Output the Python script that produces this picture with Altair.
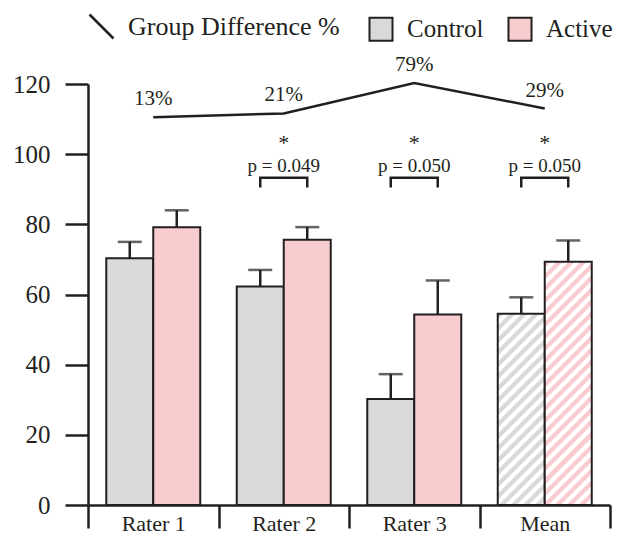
import math
import altair as alt
import pandas as pd

# ---------------- data ----------------
categories = ["Rater 1", "Rater 2", "Rater 3", "Mean"]
groups = ["Control", "Active"]
control_vals = [70.3, 62.3, 30.2, 54.5]
control_err = [4.7, 4.7, 7.1, 4.7]
active_vals = [79.2, 75.6, 54.3, 69.3]
active_err = [4.8, 3.6, 9.7, 6.1]
diff_vals = [110.5, 111.6, 120.3, 113.0]
diff_labels = ["13%", "21%", "79%", "29%"]
sig_categories = ["Rater 2", "Rater 3", "Mean"]
sig_p_labels = ["p = 0.049", "p = 0.050", "p = 0.050"]
sig_marks = ["*", "*", "*"]

# ---------------- style constants ----------------
FONT = "Liberation Serif"
INK = "#231f20"
GRAY = "#d9d9d9"
PINK = "#f9cdd0"
PLOT_W = 522
PLOT_H = 421
Y_MAX = 120
BAND = PLOT_W / len(categories)
BAR_W = 47
OFF_PAD = (BAND / BAR_W - 2) / 2
STRIPE_PERIOD = 8.5
BRACKET_TOP = 93.3
BRACKET_LEG = 90.5
P_Y = 95.0
STAR_Y = 99.9

rows = []
for i, c in enumerate(categories):
    rows.append(dict(category=c, group="Control", value=control_vals[i],
                     upper=control_vals[i] + control_err[i]))
    rows.append(dict(category=c, group="Active", value=active_vals[i],
                     upper=active_vals[i] + active_err[i]))
bars = pd.DataFrame(rows)

line_df = pd.DataFrame(dict(category=categories, value=diff_vals,
                            label=diff_labels,
                            series=["Group Difference %"] * len(categories)))

sig_df = pd.DataFrame(dict(category=sig_categories, p=sig_p_labels,
                           star=sig_marks))
br_rows = []
for c in sig_categories:
    br_rows += [dict(category=c, group="Control", y=BRACKET_LEG, o=0),
                dict(category=c, group="Control", y=BRACKET_TOP, o=1),
                dict(category=c, group="Active", y=BRACKET_TOP, o=2),
                dict(category=c, group="Active", y=BRACKET_LEG, o=3)]
br_df = pd.DataFrame(br_rows)

x_scale = alt.Scale(domain=categories, paddingInner=0, paddingOuter=0)
off_scale = alt.Scale(domain=groups, paddingInner=0, paddingOuter=OFF_PAD)
y_scale = alt.Scale(domain=[0, Y_MAX], nice=False)

x_axis = alt.Axis(title=None, labelAngle=0, tickBand="extent", tickSize=23,
                  tickWidth=2.5, tickColor=INK, domainColor=INK,
                  domainWidth=2.5, labelFont=FONT, labelFontSize=22,
                  labelColor=INK, labelPadding=-15)
y_axis = alt.Axis(title=None, values=[0, 20, 40, 60, 80, 100, 120],
                  tickSize=23, tickWidth=2.5, tickColor=INK, domainColor=INK,
                  domainWidth=2.5, labelFont=FONT, labelFontSize=25,
                  labelColor=INK, labelPadding=15, grid=False)

X = alt.X("category:N", scale=x_scale, axis=x_axis, sort=categories)
XO = alt.XOffset("group:N", scale=off_scale, sort=groups)
Y = alt.Y("value:Q", scale=y_scale, axis=y_axis)

bar_base = alt.Chart(bars)

solid = bar_base.transform_filter(alt.datum.category != "Mean").mark_bar(
    stroke=INK, strokeWidth=2).encode(
    x=X, xOffset=XO, y=Y,
    fill=alt.Fill("group:N", sort=groups,
                  scale=alt.Scale(domain=groups, range=[GRAY, PINK]),
                  legend=alt.Legend(orient="none", legendX=280, legendY=-68,
                                    direction="horizontal", title=None,
                                    symbolType="square", symbolSize=530,
                                    symbolStrokeColor=INK,
                                    symbolStrokeWidth=2,
                                    labelFont=FONT, labelFontSize=25,
                                    labelColor=INK, labelOffset=13,
                                    labelLimit=300, columnPadding=20)))


def stripes(color, value):
    w = BAR_W
    h = value * PLOT_H / Y_MAX
    k = (w + h) / (w * w + h * h)
    n = (w + h) / math.sqrt(2) / STRIPE_PERIOD
    stops = []
    i = 0
    while i / n < 1:
        a, b, c = i / n, min((i + 0.5) / n, 1), min((i + 1) / n, 1)
        stops += [alt.GradientStop(offset=a, color=color),
                  alt.GradientStop(offset=b, color=color),
                  alt.GradientStop(offset=b, color="white"),
                  alt.GradientStop(offset=c, color="white")]
        i += 1
    return alt.LinearGradient(gradient="linear", stops=stops, x1=0, y1=0,
                              x2=k * w, y2=k * h)


mean_idx = categories.index("Mean")
hatched = []
for g, col, v in [("Control", GRAY, control_vals[mean_idx]),
                  ("Active", PINK, active_vals[mean_idx])]:
    hatched.append(
        bar_base.transform_filter(
            (alt.datum.category == "Mean") & (alt.datum.group == g)
        ).mark_bar(stroke=INK, strokeWidth=2, color=stripes(col, v)).encode(
            x=X, xOffset=XO, y=Y))

stems = bar_base.mark_rule(color=INK, strokeWidth=2.5).encode(
    x=X, xOffset=XO, y=Y, y2="upper:Q")
caps = bar_base.mark_tick(color=INK, thickness=2.5, size=24).encode(
    x=X, xOffset=XO, y=alt.Y("upper:Q", scale=y_scale))

diff_line = alt.Chart(line_df).mark_line(strokeWidth=2.5).encode(
    x=X, y=Y,
    stroke=alt.Stroke("series:N", scale=alt.Scale(range=[INK]),
                      legend=alt.Legend(orient="none", legendX=0,
                                        legendY=-71, title=None,
                                        symbolType="M-1,-1L1,1",
                                        symbolSize=576,
                                        symbolStrokeWidth=2.5,
                                        symbolStrokeColor=INK,
                                        labelFont=FONT, labelFontSize=26,
                                        labelColor=INK, labelOffset=13,
                                        labelLimit=400)))
diff_text = alt.Chart(line_df).mark_text(
    font=FONT, fontSize=21, color=INK, dy=-18, baseline="middle").encode(
    x=X, y=Y, text="label:N")

brackets = alt.Chart(br_df).mark_line(color=INK, strokeWidth=2.5).encode(
    x=X, xOffset=XO, y=alt.Y("y:Q", scale=y_scale), detail="category:N",
    order="o:Q")
p_text = alt.Chart(sig_df).mark_text(
    font=FONT, fontSize=19, color=INK, baseline="alphabetic").encode(
    x=X, y=alt.datum(P_Y, scale=y_scale), text="p:N")
star_text = alt.Chart(sig_df).mark_text(
    font=FONT, fontSize=22, color=INK, baseline="bottom").encode(
    x=X, y=alt.datum(STAR_Y, scale=y_scale), text="star:N")

chart = alt.layer(solid, *hatched, stems, caps, diff_line, diff_text,
                  brackets, p_text, star_text).resolve_scale(
    fill="independent", stroke="independent"
).properties(
    width=PLOT_W, height=PLOT_H,
    autosize=alt.AutoSizeParams(type="none"),
    padding={"left": 80, "top": 76, "right": 8, "bottom": 34},
).configure(background="white", view=alt.ViewConfig(stroke=None))

chart.save("out.html", embed_options={"renderer": "svg", "actions": False})
